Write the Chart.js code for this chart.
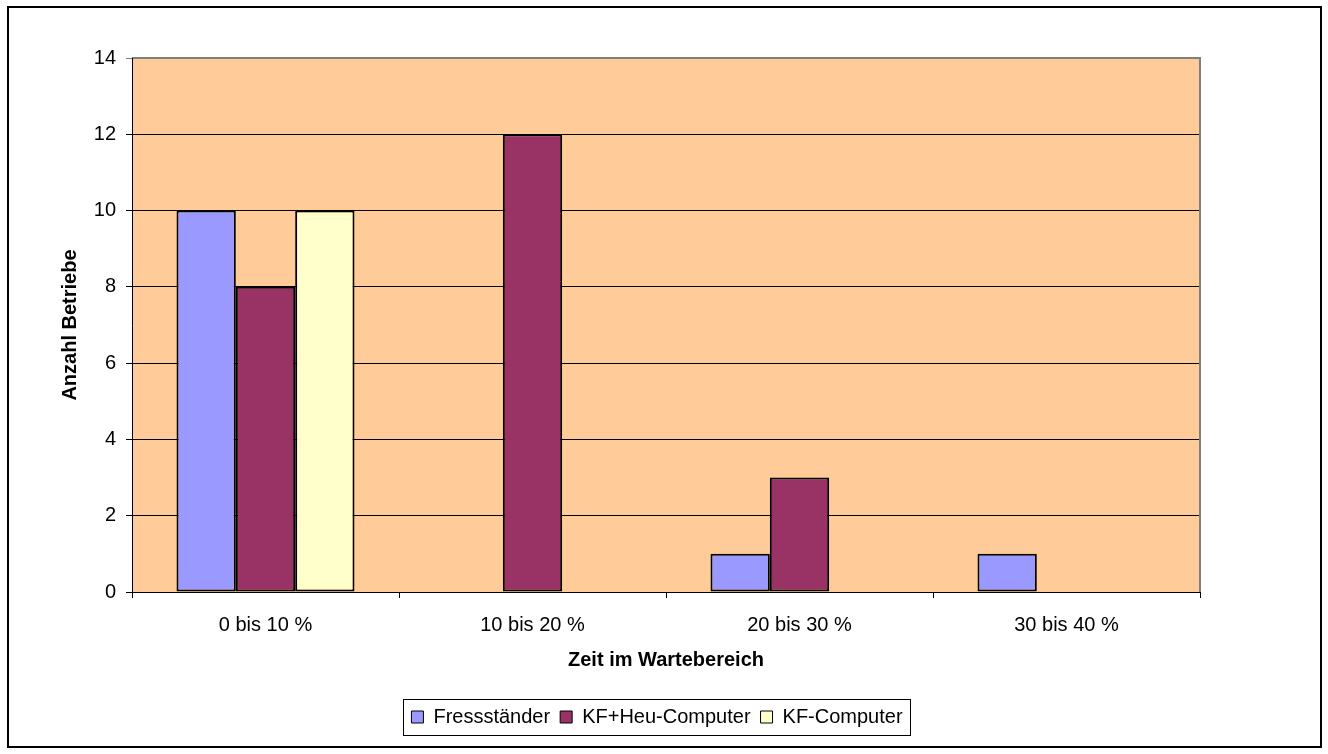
<!DOCTYPE html>
<html>
<head>
<meta charset="utf-8">
<script src="https://cdn.jsdelivr.net/npm/chart.js@4/dist/chart.umd.min.js"></script>
<style>
  html, body { margin: 0; padding: 0; background: #fff; }
  #wrap { width: 1328px; height: 754px; position: relative; }
</style>
</head>
<body>
<div id="wrap"><canvas id="c" width="1328" height="754"></canvas></div>
<script>
const categories = ['0 bis 10 %', '10 bis 20 %', '20 bis 30 %', '30 bis 40 %'];
const fressstaender = [10, 0, 1, 1];
const kfHeuComputer = [8, 12, 3, 0];
const kfComputer = [10, 0, 0, 0];
const yTicks = [0, 2, 4, 6, 8, 10, 12, 14];

const FONT = "'Liberation Sans', Arial, sans-serif";
const LEGEND_SHIFT = 53;

// Frame around the whole chart, plot background and box around the legend
const framePlugin = {
  id: 'frame',
  afterLayout(chart) {
    const lg = chart.legend;
    if (lg) {
      lg.left += LEGEND_SHIFT;
      lg.right += LEGEND_SHIFT;
    }
  },
  beforeDraw(chart) {
    const { ctx, chartArea: a } = chart;
    ctx.save();
    ctx.fillStyle = '#fff';
    ctx.fillRect(0, 0, chart.width, chart.height);
    ctx.strokeStyle = '#000';
    ctx.lineWidth = 2;
    ctx.strokeRect(8, 7, 1313, 740);
    ctx.fillStyle = '#FFCC99';
    ctx.fillRect(a.left, a.top, a.right - a.left, a.bottom - a.top);
    ctx.restore();
  },
  afterDatasetsDraw(chart) {
    const { ctx, chartArea: a } = chart;
    ctx.save();
    ctx.strokeStyle = '#808080';
    ctx.lineWidth = 2;
    ctx.beginPath();
    ctx.moveTo(a.left, a.top);
    ctx.lineTo(a.right, a.top);
    ctx.lineTo(a.right, a.bottom);
    ctx.stroke();
    ctx.strokeStyle = '#000';
    ctx.lineWidth = 1;
    ctx.beginPath();
    ctx.moveTo(a.left + 0.5, a.top);
    ctx.lineTo(a.left + 0.5, a.bottom + 0.5);
    ctx.lineTo(a.right, a.bottom + 0.5);
    ctx.stroke();
    ctx.restore();
  },
  afterDraw(chart) {
    const lg = chart.legend;
    if (!lg || !lg.legendHitBoxes.length) return;
    const hb = lg.legendHitBoxes;
    const left = hb[0].left - 8;
    const right = hb[hb.length - 1].left + hb[hb.length - 1].width + 8;
    const top = hb[0].top - 8;
    const bottom = hb[0].top + hb[0].height + 8;
    const { ctx } = chart;
    ctx.save();
    ctx.strokeStyle = '#000';
    ctx.lineWidth = 1;
    ctx.strokeRect(Math.round(left) + 0.5, Math.round(top) + 0.5, Math.round(right - left), Math.round(bottom - top));
    ctx.restore();
  }
};

const zeroless = (ctx) => (ctx.raw === 0 ? 0 : 2);

new Chart(document.getElementById('c'), {
  type: 'bar',
  data: {
    labels: categories,
    datasets: [
      { label: 'Fressständer', data: fressstaender, backgroundColor: '#9999FF', borderColor: '#000', borderWidth: zeroless, borderSkipped: false },
      { label: 'KF+Heu-Computer', data: kfHeuComputer, backgroundColor: '#993366', borderColor: '#000', borderWidth: zeroless, borderSkipped: false },
      { label: 'KF-Computer', data: kfComputer, backgroundColor: '#FFFFCC', borderColor: '#000', borderWidth: zeroless, borderSkipped: false }
    ]
  },
  options: {
    responsive: false,
    animation: false,
    devicePixelRatio: 1,
    layout: { padding: { left: 8, top: 58, right: 128, bottom: 17 } },
    datasets: { bar: { categoryPercentage: 0.6667, barPercentage: 1.0 } },
    plugins: {
      tooltip: { enabled: false },
      legend: {
        position: 'bottom',
        labels: {
          font: { family: FONT, size: 20 },
          color: '#000',
          boxWidth: 12,
          boxHeight: 12,
          padding: 10,
          generateLabels(chart) {
            return chart.data.datasets.map((ds, i) => ({
              text: ds.label,
              fillStyle: ds.backgroundColor,
              strokeStyle: '#000',
              lineWidth: 1,
              datasetIndex: i,
              fontColor: '#000'
            }));
          }
        }
      }
    },
    scales: {
      x: {
        afterFit(s) { s.height = 105; },
        grid: { display: true, drawOnChartArea: false, offset: true, tickLength: 6, color: '#000', drawTicks: true },
        border: { display: false },
        ticks: { font: { family: FONT, size: 20 }, color: '#000', padding: 15 },
        title: {
          display: true,
          text: 'Zeit im Wartebereich',
          font: { family: FONT, size: 20, weight: 'bold' },
          color: '#000',
          padding: { top: 0, bottom: 25 }
        }
      },
      y: {
        min: 0,
        max: 14,
        afterFit(s) { s.width = 124; },
        afterBuildTicks(s) { s.ticks = yTicks.map(v => ({ value: v })); },
        grid: {
          tickLength: 6,
          color: (c) => (c.tick && c.tick.value === 14 ? '#808080' : '#000'),
          lineWidth: 1
        },
        border: { display: false },
        ticks: { font: { family: FONT, size: 20 }, color: '#000', padding: 10 },
        title: {
          display: true,
          text: 'Anzahl Betriebe',
          font: { family: FONT, size: 20, weight: 'bold' },
          color: '#000',
          padding: { top: 50, bottom: 0 }
        }
      }
    }
  },
  plugins: [framePlugin]
});
</script>
</body>
</html>
